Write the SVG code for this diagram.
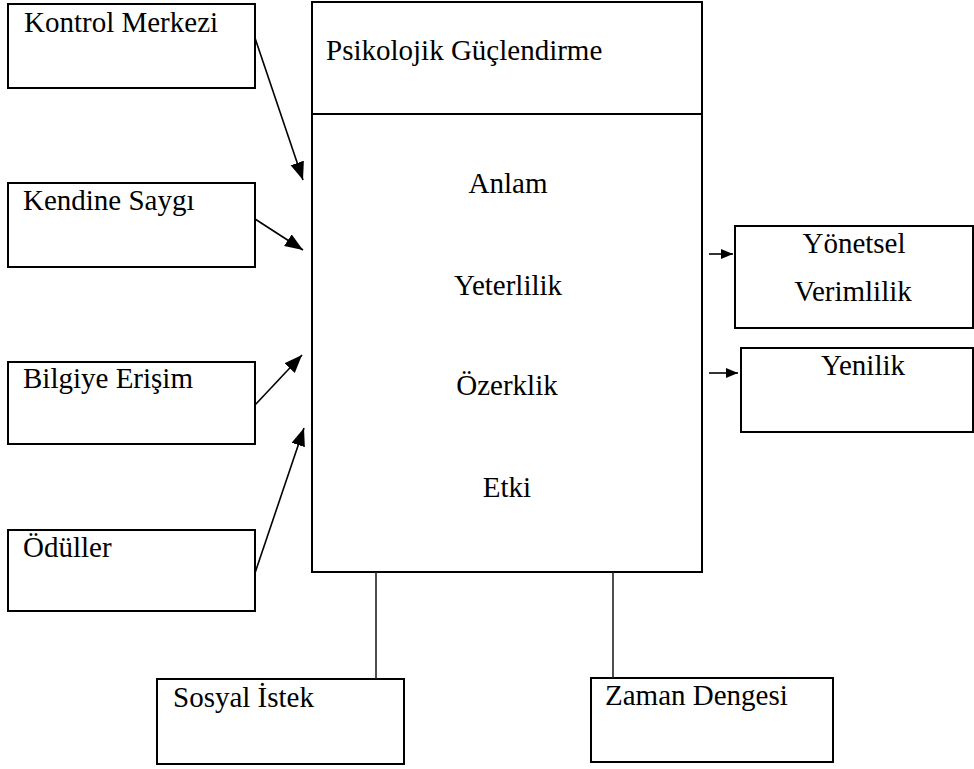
<svg xmlns="http://www.w3.org/2000/svg" width="974" height="769" viewBox="0 0 974 769">
<style>
.box{fill:#fff;stroke:#000;stroke-width:2}
.t{font-family:"Liberation Serif","Times New Roman",serif;font-size:29px;fill:#000}
.c{text-anchor:middle}
.ln{stroke:#000;stroke-width:1.6;fill:none}
.ln2{stroke:#222;stroke-width:1.6;fill:none}
.div{stroke:#000;stroke-width:2.2;fill:none}
</style>
<defs>
<marker id="ah" markerUnits="userSpaceOnUse" markerWidth="19" markerHeight="15" refX="18" refY="7" orient="auto">
<path d="M0,0 L18,7 L0,14 z" fill="#000"/>
</marker>
<marker id="ahs" markerUnits="userSpaceOnUse" markerWidth="13" markerHeight="11" refX="12" refY="5" orient="auto">
<path d="M0,0 L12,5 L0,10 z" fill="#000"/>
</marker>
</defs>
<rect width="974" height="769" fill="#fff"/>
<g id="main">
<rect class="box" x="312" y="2" width="390" height="570"/>
<line class="div" x1="312" y1="114" x2="702" y2="114"/>
<text class="t" x="326" y="60">Psikolojik Güçlendirme</text>
<text class="t c" x="508" y="193">Anlam</text>
<text class="t c" x="508" y="295">Yeterlilik</text>
<text class="t c" x="507" y="395">Özerklik</text>
<text class="t c" x="507" y="497">Etki</text>
</g>
<g id="kontrol">
<rect class="box" x="8" y="4" width="247" height="84"/>
<text class="t" x="24" y="32">Kontrol Merkezi</text>
</g>
<g id="kendine">
<rect class="box" x="8" y="183" width="247" height="84"/>
<text class="t" x="23" y="210">Kendine Saygı</text>
</g>
<g id="bilgiye">
<rect class="box" x="8" y="362" width="247" height="82"/>
<text class="t" x="23" y="388">Bilgiye Erişim</text>
</g>
<g id="oduller">
<rect class="box" x="8" y="530" width="247" height="81"/>
<text class="t" x="23" y="557">Ödüller</text>
</g>
<g id="yonetsel">
<rect class="box" x="735" y="226" width="238" height="102"/>
<text class="t c" x="854" y="253">Yönetsel</text>
<text class="t c" x="853" y="301">Verimlilik</text>
</g>
<g id="yenilik">
<rect class="box" x="741" y="348" width="232" height="84"/>
<text class="t c" x="863" y="375">Yenilik</text>
</g>
<g id="sosyal">
<rect class="box" x="157" y="679" width="247" height="85"/>
<text class="t" x="173" y="707">Sosyal İstek</text>
</g>
<g id="zaman">
<rect class="box" x="591" y="678" width="242" height="84"/>
<text class="t" x="605" y="705">Zaman Dengesi</text>
</g>
<g id="connectors">
<line class="ln" x1="255" y1="38" x2="303" y2="180" marker-end="url(#ah)"/>
<line class="ln" x1="255" y1="219" x2="303" y2="250" marker-end="url(#ah)"/>
<line class="ln" x1="255" y1="405" x2="302" y2="355" marker-end="url(#ah)"/>
<line class="ln" x1="255" y1="573" x2="304" y2="428" marker-end="url(#ah)"/>
<line class="ln" x1="709" y1="254" x2="733" y2="254" marker-end="url(#ahs)"/>
<line class="ln" x1="709" y1="373" x2="738" y2="373" marker-end="url(#ahs)"/>
<line class="ln2" x1="376" y1="572" x2="376" y2="679"/>
<line class="ln2" x1="613" y1="572" x2="613" y2="678"/>
</g>
</svg>
